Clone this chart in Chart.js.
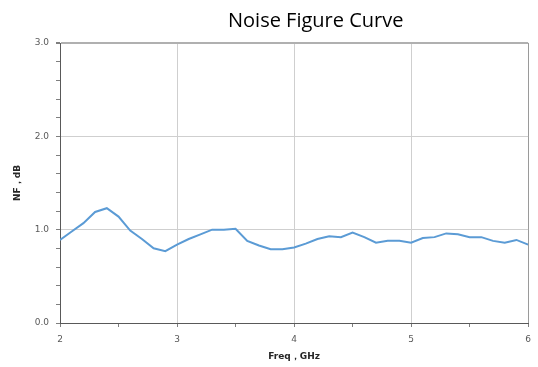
<!DOCTYPE html>
<html>
<head>
<meta charset="utf-8">
<script src="https://cdn.jsdelivr.net/npm/chart.js@4"></script>
<style>
  html, body { margin: 0; padding: 0; background: #fff; }
  #wrap { position: relative; width: 538px; height: 367px; }
  #title {
    position: absolute; left: 228px; top: 6px;
    font-family: "Open Sans", sans-serif; font-size: 20px; color: #000;
    white-space: nowrap;
  }
</style>
</head>
<body>
<div id="wrap">
  <canvas id="nfChart" width="538" height="367"></canvas>
  <div id="title">Noise Figure Curve</div>
</div>
<script>
// frequency points, GHz
const freq = [2.0, 2.1, 2.2, 2.3, 2.4, 2.5, 2.6, 2.7, 2.8, 2.9,
  3.0, 3.1, 3.2, 3.3, 3.4, 3.5, 3.6, 3.7, 3.8, 3.9,
  4.0, 4.1, 4.2, 4.3, 4.4, 4.5, 4.6, 4.7, 4.8, 4.9,
  5.0, 5.1, 5.2, 5.3, 5.4, 5.5, 5.6, 5.7, 5.8, 5.9, 6.0];

// noise figure, dB
const nf = [0.89, 0.98, 1.07, 1.19, 1.23, 1.14, 0.99, 0.90, 0.80, 0.77,
  0.84, 0.90, 0.95, 1.00, 1.00, 1.01, 0.88, 0.83, 0.79, 0.79,
  0.81, 0.85, 0.90, 0.93, 0.92, 0.97, 0.92, 0.86, 0.88, 0.88,
  0.86, 0.91, 0.92, 0.96, 0.95, 0.92, 0.92, 0.88, 0.86, 0.89, 0.84];

const xTicks = [2, 3, 4, 5, 6];
const yTicks = [0.0, 1.0, 2.0, 3.0];

const isMajor = (v, list) => list.some((t) => Math.abs(t - v) < 1e-6);

const tickFont = { family: "DejaVu Sans", size: 9 };
const titleFont = { family: "DejaVu Sans", size: 9, weight: "bold" };

const ctx = document.getElementById("nfChart");

new Chart(ctx, {
  type: "line",
  data: {
    datasets: [
      {
        label: "NF",
        data: freq.map((f, i) => ({ x: f, y: nf[i] })),
        borderColor: "#5b9bd5",
        borderWidth: 2,
        pointRadius: 0,
        tension: 0,
      },
    ],
  },
  options: {
    responsive: false,
    animation: false,
    layout: { padding: { top: 43, right: 9, left: 0, bottom: 0 } },
    plugins: { legend: { display: false }, tooltip: { enabled: false } },
    scales: {
      x: {
        type: "linear",
        min: 2,
        max: 6,
        afterFit: (scale) => { scale.height = 44; },
        afterBuildTicks: (scale) => {
          scale.ticks = [2, 2.5, 3, 3.5, 4, 4.5, 5, 5.5, 6].map((v) => ({ value: v }));
        },
        ticks: {
          autoSkip: false,
          maxRotation: 0,
          padding: 7,
          color: "#595959",
          font: tickFont,
          callback: (v) => (isMajor(v, xTicks) ? String(v) : ""),
        },
        grid: {
          color: (c) => {
            const v = c.tick && c.tick.value;
            if (v === 6) return "#9a9a9a";
            return isMajor(v, xTicks) ? "#cfcfcf" : "rgba(0,0,0,0)";
          },
          tickColor: "#7f7f7f",
          tickLength: 4,
          lineWidth: 1,
        },
        border: { color: "#595959", width: 1 },
        title: {
          display: true,
          text: "Freq，GHz",
          color: "#262626",
          font: titleFont,
          padding: { top: 4, bottom: 5 },
        },
      },
      y: {
        min: 0,
        max: 3,
        afterFit: (scale) => { scale.width = 60; },
        afterBuildTicks: (scale) => {
          const t = [];
          for (let i = 0; i <= 15; i++) t.push({ value: i / 5 });
          scale.ticks = t;
        },
        ticks: {
          autoSkip: false,
          padding: 7,
          color: "#595959",
          font: tickFont,
          callback: (v) => (isMajor(v, yTicks) ? v.toFixed(1) : ""),
        },
        grid: {
          color: (c) => {
            const v = c.tick && c.tick.value;
            if (Math.abs(v - 3) < 1e-6) return "#b0b0b0";
            return isMajor(v, yTicks) && v > 0 ? "#cfcfcf" : "rgba(0,0,0,0)";
          },
          tickColor: "#7f7f7f",
          tickLength: 4,
          lineWidth: (c) => (c.tick && Math.abs(c.tick.value - 3) < 1e-6 ? 2 : 1),
        },
        border: { color: "#595959", width: 1 },
        title: {
          display: true,
          text: "NF，dB",
          color: "#262626",
          font: titleFont,
          padding: { top: 12, bottom: 0 },
        },
      },
    },
  },
});
</script>
</body>
</html>
